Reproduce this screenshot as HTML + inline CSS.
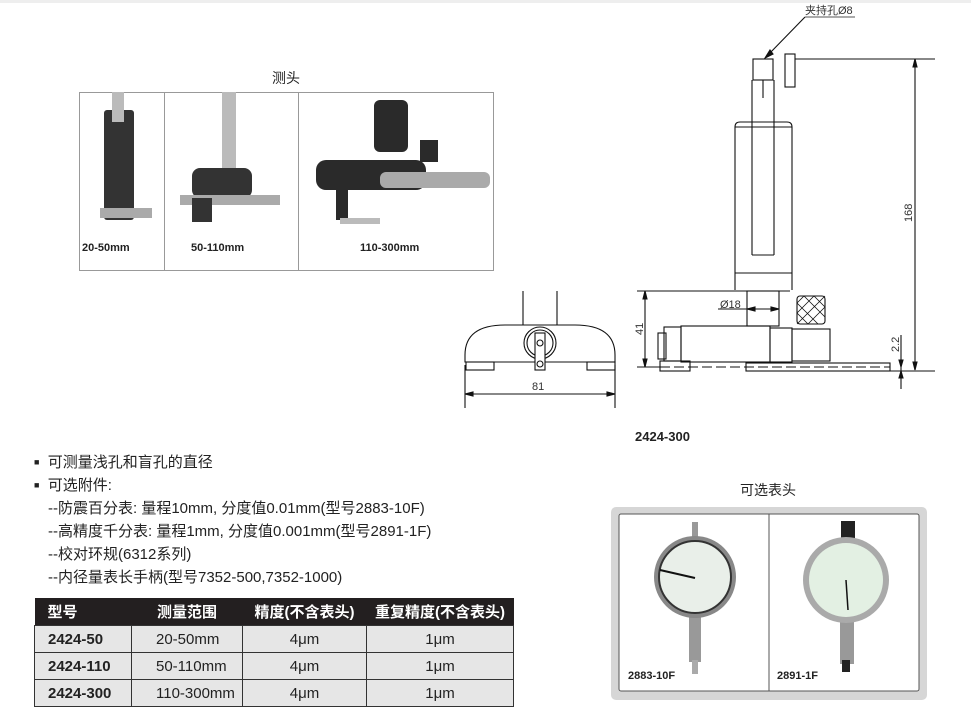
<!DOCTYPE html>
<html><head><meta charset="utf-8"><style>
body{margin:0;width:971px;height:709px;background:#fff;position:relative;overflow:hidden;font-family:"Liberation Sans","Noto Sans CJK SC",sans-serif;color:#222}
.a{position:absolute;white-space:nowrap}
table{position:absolute;left:34px;top:598px;border-collapse:collapse;font-size:15px;table-layout:fixed;width:479px}
td{height:26px;border:1px solid #333;background:#e6e6e6;padding:0;white-space:nowrap}
th{background:#231f20;color:#fff;height:27px;font-weight:bold;text-align:left;padding:0;white-space:nowrap;font-size:15px}
</style></head><body>
<div style="position:absolute;left:0;top:0;width:971px;height:3px;background:#eee"></div>
<div class="a" style="left:272px;top:68px;font-size:14px">测头</div>
<div style="position:absolute;left:79px;top:92px;width:413px;height:177px;border:1px solid #999"></div>
<div style="position:absolute;left:164px;top:92px;width:1px;height:179px;background:#999"></div>
<div style="position:absolute;left:298px;top:92px;width:1px;height:179px;background:#999"></div>
<svg style="position:absolute;left:0;top:0" width="971" height="709">
<g fill="#333"><rect x="104" y="110" width="30" height="110" rx="3"/><rect x="112" y="92" width="12" height="30" fill="#bbb"/><rect x="100" y="208" width="52" height="10" fill="#aaa"/></g>
<g fill="#333"><rect x="222" y="92" width="14" height="80" fill="#bbb"/><rect x="192" y="168" width="60" height="30" rx="8"/><rect x="180" y="195" width="100" height="10" fill="#aaa"/><rect x="192" y="198" width="20" height="24"/></g>
<g fill="#2a2a2a"><rect x="374" y="100" width="34" height="52" rx="6"/><rect x="316" y="160" width="110" height="30" rx="10"/><rect x="380" y="172" width="110" height="16" rx="6" fill="#aaa"/><rect x="420" y="140" width="18" height="22"/><rect x="336" y="190" width="12" height="30"/><rect x="340" y="218" width="40" height="6" fill="#bbb"/></g>
<g stroke="#111" stroke-width="1.1" fill="none">
<polyline points="805,17 855,17" stroke="#555"/>
<line x1="805" y1="17" x2="768" y2="55"/>
<polygon points="765,58 770,50 773,54" fill="#111"/>
<rect x="753" y="59" width="20" height="21"/>
<rect x="785" y="54" width="10" height="33"/>
<line x1="795" y1="59" x2="935" y2="59"/>
<line x1="752" y1="80" x2="752" y2="255"/><line x1="774" y1="80" x2="774" y2="255"/><line x1="752" y1="255" x2="774" y2="255"/>
<line x1="763" y1="80" x2="763" y2="98"/>
<path d="M735,290 L735,127 Q735,122 740,122 L787,122 Q792,122 792,127 L792,290"/>
<line x1="735" y1="127" x2="792" y2="127"/>
<line x1="735" y1="273" x2="792" y2="273"/>
<line x1="637" y1="291" x2="790" y2="291"/>
<rect x="747" y="291" width="32" height="35"/>
<line x1="718" y1="309" x2="779" y2="309"/>
<polygon points="747,309 755,307 755,311" fill="#111"/><polygon points="779,309 771,307 771,311" fill="#111"/>
<rect x="797" y="296" width="28" height="28" rx="3"/>
<path d="M797,303 L818,324 M797,313 L808,324 M804,296 L825,317 M814,296 L825,307 M797,313 L814,296 M797,324 L825,296 M808,324 L825,307 M797,303 L804,296" stroke-width="0.8"/>
<rect x="681" y="326" width="89" height="36"/>
<rect x="770" y="328" width="22" height="34"/>
<rect x="792" y="329" width="38" height="32"/>
<rect x="664" y="327" width="17" height="34"/>
<rect x="658" y="333" width="8" height="26"/>
<line x1="660" y1="367" x2="890" y2="367" stroke-dasharray="10,4"/>
<rect x="746" y="363" width="144" height="8"/>
<rect x="660" y="361" width="30" height="10"/>
<line x1="645" y1="291" x2="645" y2="367"/>
<polygon points="645,291 643,299 647,299" fill="#111"/><polygon points="645,367 643,359 647,359" fill="#111"/>
<line x1="637" y1="367" x2="660" y2="367"/>
<line x1="915" y1="59" x2="915" y2="370"/>
<polygon points="915,59 913,67 917,67" fill="#111"/><polygon points="915,370 913,362 917,362" fill="#111"/>
<line x1="887" y1="371" x2="935" y2="371"/>
<line x1="901" y1="335" x2="901" y2="389"/>
<polygon points="901,367 899,360 903,360" fill="#111"/><polygon points="901,371 899,378 903,378" fill="#111"/>
<line x1="523" y1="291" x2="523" y2="325"/><line x1="557" y1="291" x2="557" y2="325"/>
<path d="M465,362 L465,355 Q465,325 505,325 L575,325 Q615,325 615,355 L615,362 Z"/>
<line x1="465" y1="362" x2="615" y2="362"/>
<rect x="466" y="362" width="28" height="8"/><rect x="587" y="362" width="28" height="8"/>
<circle cx="540" cy="343" r="16"/><circle cx="540" cy="343" r="13"/>
<rect x="535" y="333" width="10" height="37" fill="#fff"/>
<circle cx="540" cy="343" r="3"/><circle cx="540" cy="364" r="3"/>
<line x1="465" y1="365" x2="465" y2="408"/><line x1="615" y1="365" x2="615" y2="408"/>
<line x1="465" y1="394" x2="615" y2="394"/>
<polygon points="465,394 473,392 473,396" fill="#111"/><polygon points="615,394 607,392 607,396" fill="#111"/>
</g>
<g font-size="11" fill="#333" font-family="Liberation Sans, Noto Sans CJK SC, sans-serif">
<text x="805" y="14">夹持孔Ø8</text>
<text x="720" y="308">Ø18</text>
<text x="532" y="390">81</text>
<text transform="translate(643,335) rotate(-90)">41</text>
<text transform="translate(912,222) rotate(-90)">168</text>
<text transform="translate(899,352) rotate(-90)">2.2</text>
</g>
<rect x="611" y="507" width="316" height="193" rx="5" fill="#d6d6d6"/>
<rect x="619" y="514" width="300" height="177" rx="2" fill="#fff" stroke="#555"/>
<line x1="769" y1="514" x2="769" y2="691" stroke="#555"/>
<rect x="692" y="522" width="6" height="20" fill="#999"/>
<rect x="689" y="612" width="12" height="50" fill="#999"/><rect x="692" y="660" width="6" height="14" fill="#aaa"/>
<circle cx="695" cy="577" r="41" fill="#888"/><circle cx="695" cy="577" r="36" fill="#e9efe9" stroke="#333" stroke-width="2"/>
<line x1="660" y1="570" x2="695" y2="578" stroke="#111" stroke-width="2"/>
<rect x="841" y="521" width="14" height="20" fill="#222"/>
<rect x="840" y="618" width="14" height="46" fill="#999"/><rect x="842" y="660" width="8" height="12" fill="#222"/>
<circle cx="846" cy="580" r="43" fill="#aaa"/><circle cx="846" cy="580" r="37" fill="#e3f0e3"/>
<line x1="846" y1="580" x2="848" y2="610" stroke="#111" stroke-width="1.5"/>
</svg>
<div class="a" style="left:82px;top:242px;font-size:11px;font-weight:bold">20-50mm</div>
<div class="a" style="left:191px;top:242px;font-size:11px;font-weight:bold">50-110mm</div>
<div class="a" style="left:360px;top:242px;font-size:11px;font-weight:bold">110-300mm</div>
<div class="a" style="left:635px;top:429px;font-size:13px;font-weight:bold">2424-300</div>
<div class="a" style="left:740px;top:480px;font-size:14px">可选表头</div>
<div class="a" style="left:628px;top:670px;font-size:11px;font-weight:bold">2883-10F</div>
<div class="a" style="left:777px;top:670px;font-size:11px;font-weight:bold">2891-1F</div>
<div class="a" style="left:34px;top:451px;font-size:15px;line-height:23px">
<div><span style="font-size:9px;vertical-align:2px">■</span>&nbsp; 可测量浅孔和盲孔的直径</div>
<div><span style="font-size:9px;vertical-align:2px">■</span>&nbsp; 可选附件:</div>
<div style="padding-left:14px">--防震百分表: 量程10mm, 分度值0.01mm(型号2883-10F)</div>
<div style="padding-left:14px">--高精度千分表: 量程1mm, 分度值0.001mm(型号2891-1F)</div>
<div style="padding-left:14px">--校对环规(6312系列)</div>
<div style="padding-left:14px">--内径量表长手柄(型号7352-500,7352-1000)</div>
</div>
<table>
<colgroup><col style="width:97px"><col style="width:111px"><col style="width:124px"><col style="width:147px"></colgroup>
<tr><th style="padding-left:13px">型号</th><th style="text-align:center">测量范围</th><th style="text-align:center">精度(不含表头)</th><th style="text-align:center">重复精度(不含表头)</th></tr>
<tr><td style="font-weight:bold;padding-left:13px">2424-50</td><td style="padding-left:24px">20-50mm</td><td style="text-align:center">4μm</td><td style="text-align:center">1μm</td></tr>
<tr><td style="font-weight:bold;padding-left:13px">2424-110</td><td style="padding-left:24px">50-110mm</td><td style="text-align:center">4μm</td><td style="text-align:center">1μm</td></tr>
<tr><td style="font-weight:bold;padding-left:13px">2424-300</td><td style="padding-left:24px">110-300mm</td><td style="text-align:center">4μm</td><td style="text-align:center">1μm</td></tr>
</table>
</body></html>
